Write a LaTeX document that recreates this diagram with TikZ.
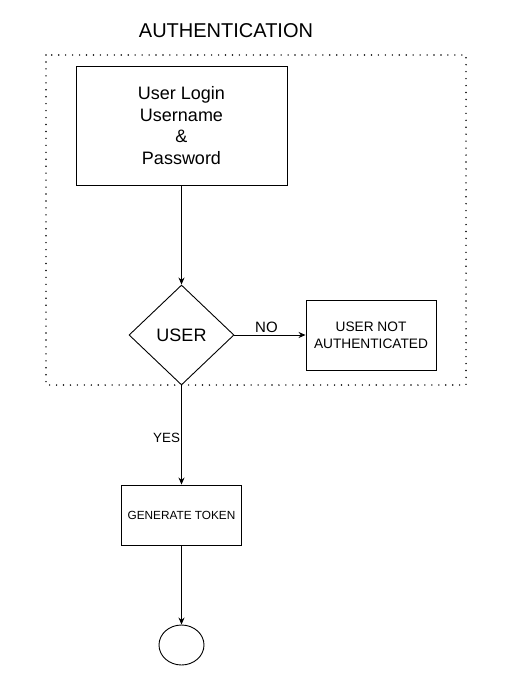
\documentclass[tikz,border=0pt]{standalone}
\usepackage{fontspec}
\setmainfont{Liberation Sans}
\usetikzlibrary{shapes.geometric,arrows.meta}
\tikzset{
  px/.style={x=1pt,y=-1pt},
  boxx/.style={draw,line width=0.9pt,rectangle,inner sep=0pt,align=center},
  conn/.style={draw,line width=0.9pt,-{Stealth[length=7pt,width=6pt]}},
  lbl/.style={inner sep=0pt},
}
\begin{document}
\begin{tikzpicture}[px]
\useasboundingbox (0,0) rectangle (526,680);
\fill[white] (0,0) rectangle (526,680);
\node[lbl,font=\fontsize{20}{24}\selectfont] (title) at (226,31) {AUTHENTICATION};
\draw[line width=1.6pt,dash pattern=on 0pt off 6.95pt,line cap=round] (46,55) rectangle (466,385);
\node[boxx,minimum width=211pt,minimum height=119pt,font=\fontsize{18}{21.6}\selectfont] (login) at (181.5,125.5) {User Login\\ Username\\ \&\\ Password};
\node[draw,line width=0.9pt,diamond,aspect=1.05,minimum width=105pt,minimum height=100pt,inner sep=0pt,font=\fontsize{18}{21.6}\selectfont] (user) at (181.5,335) {USER};
\node[boxx,minimum width=130pt,minimum height=70pt,font=\fontsize{13.7}{17}\selectfont] (notauth) at (371,335) {USER NOT\\AUTHENTICATED};
\node[boxx,minimum width=120pt,minimum height=60pt,font=\fontsize{11.8}{14}\selectfont] (token) at (181.5,515) {GENERATE TOKEN};
\node[draw,line width=0.9pt,ellipse,minimum width=45pt,minimum height=40pt,inner sep=0pt] (end) at (181.5,645) {};
\draw[conn] (login.south) -- (user.north);
\draw[conn] (user.east) -- node[lbl,pos=0.45,above=2pt,font=\fontsize{15}{18}\selectfont] {NO} (notauth.west);
\draw[conn] (user.south) -- node[lbl,pos=0.53,left=1pt,font=\fontsize{13.4}{16}\selectfont] {YES} (token.north);
\draw[conn] (token.south) -- (end.north);
\end{tikzpicture}
\end{document}
